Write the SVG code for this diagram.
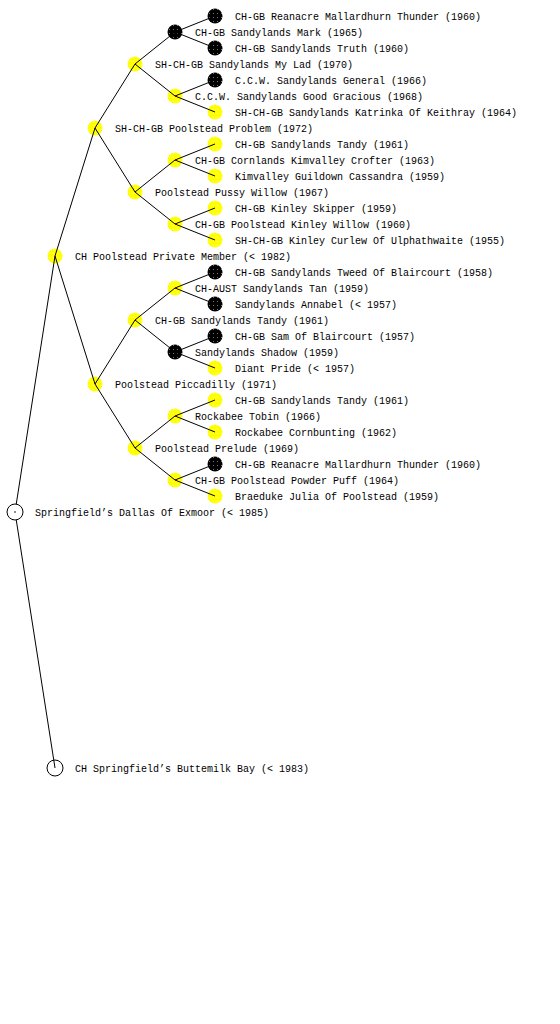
<svg xmlns="http://www.w3.org/2000/svg" width="560" height="1024" viewBox="0 0 560 1024">
<style>
text{font-family:"Liberation Mono","DejaVu Sans Mono",monospace;font-size:10px;fill:#000}
.y{fill:url(#py)}
.b{fill:url(#pb)}
.w{fill:#fff;stroke:#000;stroke-width:1}
#edges line{stroke:#000;stroke-width:1}
</style>
<defs>
<pattern id="py" width="4" height="4" patternUnits="userSpaceOnUse">
<rect width="4" height="4" fill="#ffff00"/>
<rect x="1" y="1" width="1" height="1" fill="#ffffa0"/>
</pattern>
<pattern id="pb" width="4" height="4" patternUnits="userSpaceOnUse">
<rect width="4" height="4" fill="#000"/>
<rect x="1" y="1" width="1" height="1" fill="#777"/>
</pattern>
</defs>
<rect width="560" height="1024" fill="#fff"/>
<g id="nodes-circles">
<circle class="y" cx="55" cy="256" r="7.5"/>
<circle class="w" cx="55" cy="768" r="8"/>
<circle class="y" cx="95" cy="128" r="7.5"/>
<circle class="y" cx="95" cy="384" r="7.5"/>
<circle class="y" cx="135" cy="64" r="7.5"/>
<circle class="y" cx="135" cy="192" r="7.5"/>
<circle class="y" cx="135" cy="320" r="7.5"/>
<circle class="y" cx="135" cy="448" r="7.5"/>
<circle class="b" cx="175" cy="32" r="7.5"/>
<circle class="y" cx="175" cy="96" r="7.5"/>
<circle class="y" cx="175" cy="160" r="7.5"/>
<circle class="y" cx="175" cy="224" r="7.5"/>
<circle class="y" cx="175" cy="288" r="7.5"/>
<circle class="b" cx="175" cy="352" r="7.5"/>
<circle class="y" cx="175" cy="416" r="7.5"/>
<circle class="y" cx="175" cy="480" r="7.5"/>
<circle class="b" cx="215" cy="16" r="7.5"/>
<circle class="b" cx="215" cy="48" r="7.5"/>
<circle class="b" cx="215" cy="80" r="7.5"/>
<circle class="y" cx="215" cy="112" r="7.5"/>
<circle class="y" cx="215" cy="144" r="7.5"/>
<circle class="y" cx="215" cy="176" r="7.5"/>
<circle class="y" cx="215" cy="208" r="7.5"/>
<circle class="y" cx="215" cy="240" r="7.5"/>
<circle class="b" cx="215" cy="272" r="7.5"/>
<circle class="b" cx="215" cy="304" r="7.5"/>
<circle class="b" cx="215" cy="336" r="7.5"/>
<circle class="y" cx="215" cy="368" r="7.5"/>
<circle class="y" cx="215" cy="400" r="7.5"/>
<circle class="y" cx="215" cy="432" r="7.5"/>
<circle class="b" cx="215" cy="464" r="7.5"/>
<circle class="y" cx="215" cy="496" r="7.5"/>
</g>
<g id="edges">
<line x1="15" y1="512" x2="55" y2="256"/>
<line x1="15" y1="512" x2="55" y2="768"/>
<line x1="55" y1="256" x2="95" y2="128"/>
<line x1="55" y1="256" x2="95" y2="384"/>
<line x1="95" y1="128" x2="135" y2="64"/>
<line x1="95" y1="128" x2="135" y2="192"/>
<line x1="95" y1="384" x2="135" y2="320"/>
<line x1="95" y1="384" x2="135" y2="448"/>
<line x1="135" y1="64" x2="175" y2="32"/>
<line x1="135" y1="64" x2="175" y2="96"/>
<line x1="135" y1="192" x2="175" y2="160"/>
<line x1="135" y1="192" x2="175" y2="224"/>
<line x1="135" y1="320" x2="175" y2="288"/>
<line x1="135" y1="320" x2="175" y2="352"/>
<line x1="135" y1="448" x2="175" y2="416"/>
<line x1="135" y1="448" x2="175" y2="480"/>
<line x1="175" y1="32" x2="215" y2="16"/>
<line x1="175" y1="32" x2="215" y2="48"/>
<line x1="175" y1="96" x2="215" y2="80"/>
<line x1="175" y1="96" x2="215" y2="112"/>
<line x1="175" y1="160" x2="215" y2="144"/>
<line x1="175" y1="160" x2="215" y2="176"/>
<line x1="175" y1="224" x2="215" y2="208"/>
<line x1="175" y1="224" x2="215" y2="240"/>
<line x1="175" y1="288" x2="215" y2="272"/>
<line x1="175" y1="288" x2="215" y2="304"/>
<line x1="175" y1="352" x2="215" y2="336"/>
<line x1="175" y1="352" x2="215" y2="368"/>
<line x1="175" y1="416" x2="215" y2="400"/>
<line x1="175" y1="416" x2="215" y2="432"/>
<line x1="175" y1="480" x2="215" y2="464"/>
<line x1="175" y1="480" x2="215" y2="496"/>
</g>
<g id="root">
<circle class="w" cx="15" cy="512" r="8"/>
<circle cx="15" cy="512" r="0.8" fill="#000"/>
</g>
<g id="labels">
<text x="35" y="516">Springfield’s Dallas Of Exmoor (&lt; 1985)</text>
<text x="75" y="260">CH Poolstead Private Member (&lt; 1982)</text>
<text x="75" y="772">CH Springfield’s Buttemilk Bay (&lt; 1983)</text>
<text x="115" y="132">SH-CH-GB Poolstead Problem (1972)</text>
<text x="115" y="388">Poolstead Piccadilly (1971)</text>
<text x="155" y="68">SH-CH-GB Sandylands My Lad (1970)</text>
<text x="155" y="196">Poolstead Pussy Willow (1967)</text>
<text x="155" y="324">CH-GB Sandylands Tandy (1961)</text>
<text x="155" y="452">Poolstead Prelude (1969)</text>
<text x="195" y="36">CH-GB Sandylands Mark (1965)</text>
<text x="195" y="100">C.C.W. Sandylands Good Gracious (1968)</text>
<text x="195" y="164">CH-GB Cornlands Kimvalley Crofter (1963)</text>
<text x="195" y="228">CH-GB Poolstead Kinley Willow (1960)</text>
<text x="195" y="292">CH-AUST Sandylands Tan (1959)</text>
<text x="195" y="356">Sandylands Shadow (1959)</text>
<text x="195" y="420">Rockabee Tobin (1966)</text>
<text x="195" y="484">CH-GB Poolstead Powder Puff (1964)</text>
<text x="235" y="20">CH-GB Reanacre Mallardhurn Thunder (1960)</text>
<text x="235" y="52">CH-GB Sandylands Truth (1960)</text>
<text x="235" y="84">C.C.W. Sandylands General (1966)</text>
<text x="235" y="116">SH-CH-GB Sandylands Katrinka Of Keithray (1964)</text>
<text x="235" y="148">CH-GB Sandylands Tandy (1961)</text>
<text x="235" y="180">Kimvalley Guildown Cassandra (1959)</text>
<text x="235" y="212">CH-GB Kinley Skipper (1959)</text>
<text x="235" y="244">SH-CH-GB Kinley Curlew Of Ulphathwaite (1955)</text>
<text x="235" y="276">CH-GB Sandylands Tweed Of Blaircourt (1958)</text>
<text x="235" y="308">Sandylands Annabel (&lt; 1957)</text>
<text x="235" y="340">CH-GB Sam Of Blaircourt (1957)</text>
<text x="235" y="372">Diant Pride (&lt; 1957)</text>
<text x="235" y="404">CH-GB Sandylands Tandy (1961)</text>
<text x="235" y="436">Rockabee Cornbunting (1962)</text>
<text x="235" y="468">CH-GB Reanacre Mallardhurn Thunder (1960)</text>
<text x="235" y="500">Braeduke Julia Of Poolstead (1959)</text>
</g>
</svg>
